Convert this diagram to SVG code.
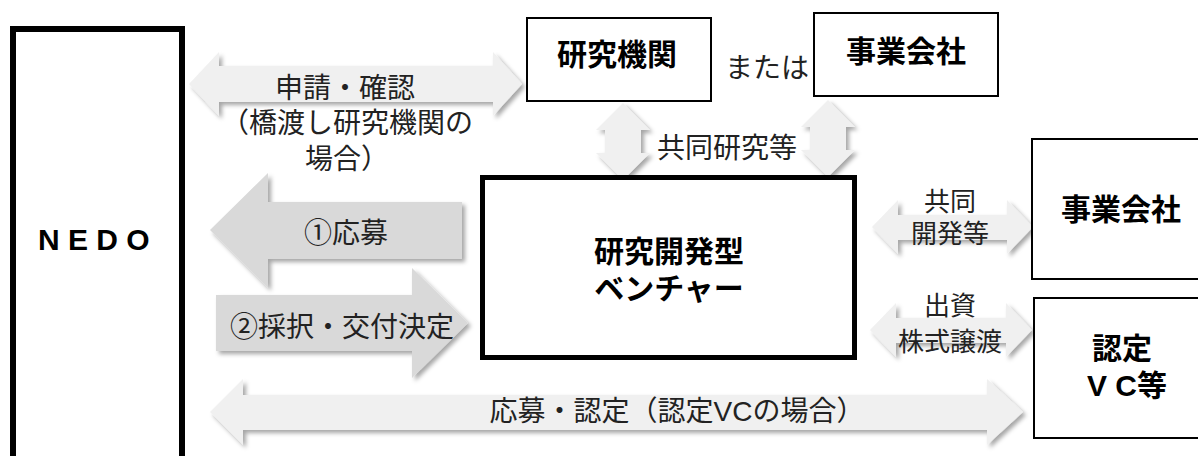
<svg xmlns="http://www.w3.org/2000/svg" width="1198" height="456" viewBox="0 0 1198 456">
<defs>
<filter id="sh" x="-10%" y="-20%" width="130%" height="150%">
<feDropShadow dx="3" dy="3" stdDeviation="2" flood-color="#000" flood-opacity="0.35"/>
</filter>
<style>
.box{fill:#fff;stroke:#000;stroke-width:2}
.thick{fill:#fff;stroke:#000;stroke-width:5}
.t{font-family:"Liberation Sans","Noto Sans CJK JP",sans-serif;font-size:28px;fill:#222;text-anchor:middle}
.s{font-size:26px}
.b{font-family:"Liberation Sans","Noto Sans CJK JP",sans-serif;font-size:30px;font-weight:bold;fill:#000;text-anchor:middle}
.light{fill:#f0f0f0;filter:url(#sh)}
.dark{fill:#d9d9d9;filter:url(#sh)}
</style>
</defs>
<g id="connectors">
<path class="light" d="M189,84 L219,52 L219,66 L493,66 L493,52 L522,84 L493,116 L493,102 L219,102 L219,116 Z"/>
<path class="dark" d="M210,230 L268,173 L268,202 L462,202 L462,259 L268,259 L268,288 Z"/>
<path class="dark" d="M216,295 L412,295 L412,268 L468,323 L412,378 L412,351 L216,351 Z"/>
<path class="light" d="M210,412 L243,379 L243,395 L987,395 L987,379 L1023,412 L987,445 L987,430 L243,430 L243,445 Z"/>
<path class="light" d="M623,103 L650,130 L641,130 L641,153 L650,153 L623,180 L596,153 L605,153 L605,130 L596,130 Z"/>
<path class="light" d="M828,100 L855,127 L846,127 L846,150 L855,150 L828,177 L801,150 L810,150 L810,127 L801,127 Z"/>
<path class="light" d="M872,227 L898,200 L898,215 L1007,215 L1007,200 L1033,227 L1007,254 L1007,240 L898,240 L898,254 Z"/>
<path class="light" d="M870,330 L896,303 L896,318 L1006,318 L1006,303 L1032,330 L1006,357 L1006,343 L896,343 L896,357 Z"/>
<text class="t" x="345" y="97.5">申請・確認</text>
<text class="t" x="347" y="132.5">（橋渡し研究機関の</text>
<text class="t" x="347" y="168.5">場合）</text>
<text class="t" x="346" y="242.5">①応募</text>
<text class="t" x="342" y="336.5">②採択・交付決定</text>
<text class="t" x="677" y="420.5">応募・認定（認定VCの場合）</text>
<text class="t" x="727" y="157.5">共同研究等</text>
<text class="t s" x="950" y="211">共同</text>
<text class="t s" x="950" y="243">開発等</text>
<text class="t s" x="950" y="315">出資</text>
<text class="t s" x="950" y="351">株式譲渡</text>
<text class="t" x="767" y="77.5">または</text>
</g>
<g id="nedo">
<rect x="13" y="29" width="169" height="450" fill="#fff" stroke="#000" stroke-width="6"/>
<text x="38" y="250" font-family="'Liberation Sans',Arial,sans-serif" font-size="30" font-weight="bold" fill="#000">N E D O</text>
</g>
<g id="kenkyu-kikan">
<rect class="box" x="527" y="18" width="184" height="83"/>
<text class="b" x="617" y="64.5">研究機関</text>
</g>
<g id="jigyo-top">
<rect class="box" x="814" y="13" width="184" height="83"/>
<text class="b" x="906" y="61.5">事業会社</text>
</g>
<g id="venture">
<rect class="thick" x="482.5" y="177.5" width="372" height="180"/>
<text class="b" x="669" y="261.5">研究開発型</text>
<text class="b" x="669" y="298.5">ベンチャー</text>
</g>
<g id="jigyo-right">
<rect class="box" x="1032" y="139" width="180" height="140"/>
<text class="b" x="1121" y="219.5">事業会社</text>
</g>
<g id="vc">
<rect class="box" x="1034" y="298" width="180" height="140"/>
<text class="b" x="1122" y="358.5">認定</text>
<text class="b" x="1127" y="395.5">V C等</text>
</g>
</svg>
